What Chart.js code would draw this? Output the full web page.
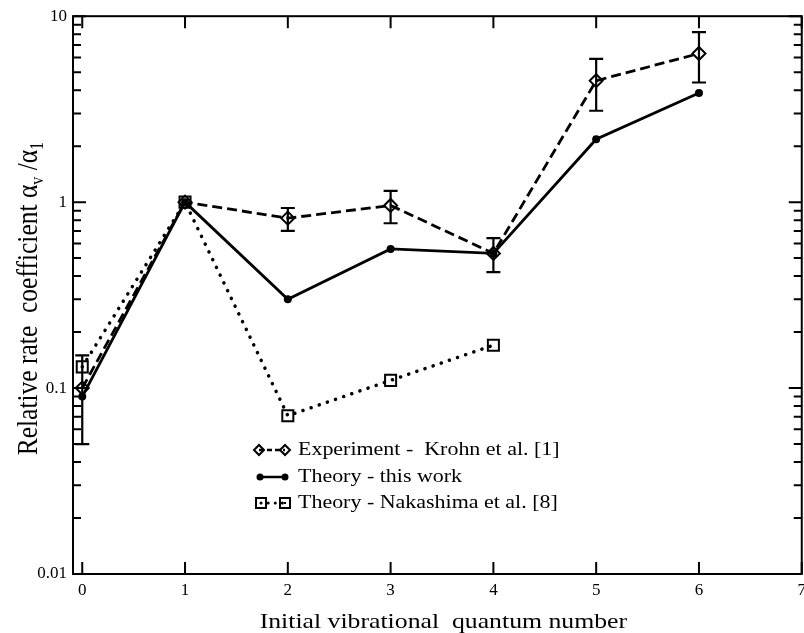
<!DOCTYPE html>
<html><head><meta charset="utf-8">
<script src="https://cdn.jsdelivr.net/npm/chart.js@4"></script>
<style>html,body{margin:0;padding:0;overflow:hidden;background:#fff}#wrap{width:812px;height:633px}</style>
</head><body><div id="wrap"><canvas id="c" width="812" height="633"></canvas></div>
<script>
// ---- data ----
const vib = [0, 1, 2, 3, 4, 5, 6];
const expValues = [0.10, 1.0, 0.82, 0.96, 0.53, 4.5, 6.3];
const expLow    = [0.05, 1.0, 0.70, 0.77, 0.42, 3.1, 4.4];
const expHigh   = [0.15, 1.0, 0.93, 1.15, 0.64, 5.9, 8.2];
const theoryValues = [0.09, 1.0, 0.30, 0.56, 0.53, 2.18, 3.86];
const nakaX = [0, 1, 2, 3, 4];
const nakaValues = [0.13, 1.0, 0.071, 0.11, 0.17];
const xTicks = [0, 1, 2, 3, 4, 5, 6, 7];
const yMajor = [0.01, 0.1, 1, 10];
const legendLabels = ['Experiment -  Krohn et al. [1]', 'Theory - this work', 'Theory - Nakashima et al. [8]'];
const xTitle = 'Initial vibrational  quantum number';
const yTitleParts = [['Relative rate  coefficient \u03B1', false], ['v', true], [' /\u03B1', false], ['1', true]];

const FONT = '"Liberation Serif", "Times New Roman", serif';

function drawMarker(ctx, kind, x, y, s) {
  ctx.save();
  ctx.setLineDash([]);
  ctx.strokeStyle = '#000';
  ctx.fillStyle = '#000';
  ctx.lineWidth = 2;
  ctx.beginPath();
  if (kind === 'diamond') {
    ctx.moveTo(x, y - s); ctx.lineTo(x + s, y); ctx.lineTo(x, y + s); ctx.lineTo(x - s, y); ctx.closePath();
    ctx.stroke();
  } else if (kind === 'circle') {
    ctx.arc(x, y, s, 0, Math.PI * 2); ctx.fill();
  } else {
    ctx.rect(x - s, y - s, 2 * s, 2 * s); ctx.stroke();
    ctx.fillRect(x - 1, y - 1, 2, 2);
  }
  ctx.restore();
}

const decor = {
  id: 'decor',
  afterDatasetsDraw(chart) {
    const ctx = chart.ctx, xs = chart.scales.x, ys = chart.scales.y;
    ctx.save();
    ctx.strokeStyle = '#000';
    ctx.lineWidth = 2.2;
    ctx.setLineDash([]);
    for (let i = 0; i < vib.length; i++) {
      if (expHigh[i] === expLow[i]) continue;
      const px = xs.getPixelForValue(vib[i]);
      const y1 = ys.getPixelForValue(expLow[i]);
      const y2 = ys.getPixelForValue(expHigh[i]);
      ctx.beginPath();
      ctx.moveTo(px, y1); ctx.lineTo(px, y2);
      ctx.moveTo(px - 7, y1); ctx.lineTo(px + 7, y1);
      ctx.moveTo(px - 7, y2); ctx.lineTo(px + 7, y2);
      ctx.stroke();
    }
    ctx.restore();
  },
  afterDraw(chart) {
    const ctx = chart.ctx, xs = chart.scales.x, ys = chart.scales.y, a = chart.chartArea;
    ctx.save();
    ctx.strokeStyle = '#000';
    ctx.lineWidth = 2;
    ctx.setLineDash([]);
    // frame
    ctx.strokeRect(a.left, a.top, a.right - a.left, a.bottom - a.top);
    // x ticks (inward, top and bottom)
    ctx.beginPath();
    xTicks.forEach(v => {
      const px = xs.getPixelForValue(v);
      ctx.moveTo(px, a.bottom); ctx.lineTo(px, a.bottom - 12);
      ctx.moveTo(px, a.top); ctx.lineTo(px, a.top + 12);
    });
    // y ticks (major + minor, inward both sides)
    for (let d = 0; d < yMajor.length; d++) {
      const base = yMajor[d];
      const py = ys.getPixelForValue(base);
      ctx.moveTo(a.left, py); ctx.lineTo(a.left + 13, py);
      ctx.moveTo(a.right, py); ctx.lineTo(a.right - 13, py);
      if (d < yMajor.length - 1) {
        for (let m = 2; m <= 9; m++) {
          const pm = ys.getPixelForValue(base * m);
          ctx.moveTo(a.left, pm); ctx.lineTo(a.left + 8, pm);
          ctx.moveTo(a.right, pm); ctx.lineTo(a.right - 8, pm);
        }
      }
    }
    ctx.stroke();

    // legend
    const styles = [
      {kind: 'diamond', s: 5, dash: [5, 3], w: 2.5, x1: 259, x2: 285},
      {kind: 'circle', s: 3.5, dash: [], w: 2.5, x1: 260, x2: 285},
      {kind: 'square', s: 5, dash: [0.1, 7], w: 3, x1: 261, x2: 285}
    ];
    const rows = [450, 477, 503];
    styles.forEach((st, i) => {
      const y = rows[i];
      ctx.save();
      ctx.lineWidth = st.w;
      ctx.setLineDash(st.dash);
      ctx.lineCap = st.dash.length && st.dash[0] < 1 ? 'round' : 'butt';
      ctx.beginPath(); ctx.moveTo(st.x1, y); ctx.lineTo(st.x2, y); ctx.stroke();
      ctx.restore();
      drawMarker(ctx, st.kind, st.x1, y, st.s);
      drawMarker(ctx, st.kind, st.x2, y, st.s);
      ctx.save();
      ctx.fillStyle = '#000';
      ctx.font = '18px ' + FONT;
      ctx.textBaseline = 'middle';
      ctx.textAlign = 'left';
      ctx.translate(298, y);
      ctx.scale(1.22, 1);
      ctx.fillText(legendLabels[i], 0, 0);
      ctx.restore();
    });

    // x title
    ctx.save();
    ctx.fillStyle = '#000';
    ctx.font = '22px ' + FONT;
    ctx.textAlign = 'center';
    ctx.textBaseline = 'alphabetic';
    ctx.translate((a.left + a.right) / 2 + 6, 628);
    ctx.scale(1.17, 1);
    ctx.fillText(xTitle, 0, 0);
    ctx.restore();

    // y title with subscripts
    ctx.save();
    ctx.fillStyle = '#000';
    ctx.translate(37, (a.top + a.bottom) / 2 + 3.5);
    ctx.rotate(-Math.PI / 2);
    ctx.scale(1, 1.15);
    ctx.textBaseline = 'alphabetic';
    ctx.textAlign = 'left';
    const big = '25.5px ', small = '16px ';
    let total = 0;
    yTitleParts.forEach(([t, sub]) => { ctx.font = (sub ? small : big) + FONT; total += ctx.measureText(t).width; });
    let cx = -total / 2;
    yTitleParts.forEach(([t, sub]) => {
      ctx.font = (sub ? small : big) + FONT;
      ctx.fillText(t, cx, sub ? 5 : 0);
      cx += ctx.measureText(t).width;
    });
    ctx.restore();
    ctx.restore();
  }
};

new Chart(document.getElementById('c'), {
  type: 'line',
  data: {
    datasets: [
      {
        label: legendLabels[0],
        data: vib.map((v, i) => ({x: v, y: expValues[i]})),
        borderColor: '#000', borderWidth: 2.8, borderDash: [10, 5],
        pointStyle: 'rectRot', pointRadius: 6.5, pointBorderWidth: 2,
        pointBackgroundColor: 'rgba(0,0,0,0)', pointBorderColor: '#000',
        fill: false, tension: 0
      },
      {
        label: legendLabels[1],
        data: vib.map((v, i) => ({x: v, y: theoryValues[i]})),
        borderColor: '#000', borderWidth: 2.8,
        pointStyle: 'circle', pointRadius: 4, pointBorderWidth: 0,
        pointBackgroundColor: '#000', pointBorderColor: '#000',
        fill: false, tension: 0
      },
      {
        label: legendLabels[2],
        data: nakaX.map((v, i) => ({x: v, y: nakaValues[i]})),
        borderColor: '#000', borderWidth: 3.5, borderDash: [0.1, 8.5], borderCapStyle: 'round',
        pointStyle: 'rect', pointRadius: 7.8, pointBorderWidth: 2,
        pointBackgroundColor: 'rgba(0,0,0,0)', pointBorderColor: '#000',
        fill: false, tension: 0
      }
    ]
  },
  options: {
    responsive: false,
    animation: false,
    layout: {padding: {top: 16, right: 6, left: 0, bottom: 0}},
    plugins: {legend: {display: false}, tooltip: {enabled: false}},
    scales: {
      x: {
        type: 'linear', min: -0.09, max: 7,
        afterFit: s => { s.height = 59; },
        afterBuildTicks: s => { s.ticks = xTicks.map(v => ({value: v})); },
        grid: {display: true, drawOnChartArea: false, drawTicks: false},
        border: {display: false},
        ticks: {color: '#000', padding: 6, font: {family: FONT, size: 17}, callback: v => String(v), maxRotation: 0, autoSkip: false}
      },
      y: {
        type: 'logarithmic', min: 0.01, max: 10,
        afterFit: s => { s.width = 73; },
        afterBuildTicks: s => { s.ticks = yMajor.map(v => ({value: v})); },
        grid: {display: true, drawOnChartArea: false, drawTicks: false},
        border: {display: false},
        ticks: {color: '#000', padding: 6, font: {family: FONT, size: 17}, callback: v => String(v), autoSkip: false}
      }
    }
  },
  plugins: [decor]
});
</script>
</body></html>
